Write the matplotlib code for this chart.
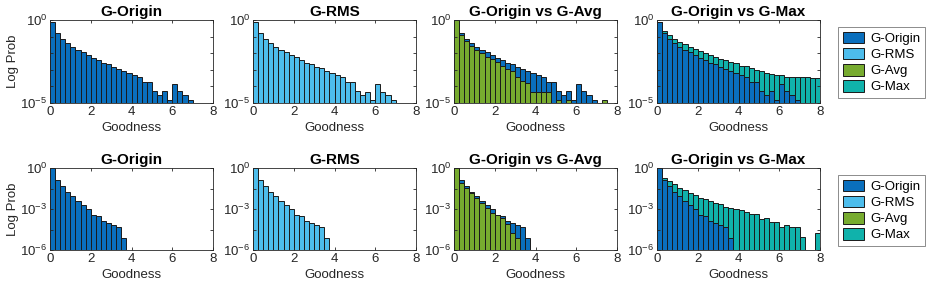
import matplotlib
matplotlib.use('Agg')
import matplotlib.pyplot as plt
import matplotlib.patches as mpatches
import numpy as np

# ─── Data (log10 probability per 0.25-wide goodness bin, nan = empty) ─────────
BIN_EDGES = np.arange(0, 8.01, 0.25)
nan = np.nan

# top row (lower limit 1e-5)
top_origin = [-0.10, -0.78, -1.14, -1.40, -1.60, -1.78, -1.93, -2.10, -2.26, -2.42,
              -2.58, -2.66, -2.85, -2.93, -3.08, -3.22, -3.32, -3.45, -3.75, -3.75,
              -4.30, -4.50, -4.30, -4.82, -3.85, -4.30, -4.52, -4.82, nan, nan, nan, nan]
top_rms = [-0.10, -0.78, -1.13, -1.40, -1.61, -1.78, -1.94, -2.10, -2.25, -2.43,
           -2.57, -2.68, -2.84, -2.90, -3.07, -3.22, -3.33, -3.45, -3.75, -3.75,
           -4.30, -4.50, -4.32, -4.80, -3.85, -4.32, -4.52, -4.82, nan, nan, nan, nan]
top_avg = [0.0, -0.93, -1.28, -1.54, -1.79, -1.99, -2.20, -2.36, -2.55, -2.75,
           -2.95, -3.05, -3.45, -3.65, -3.80, -4.33, -4.33, -4.33, -4.33, nan,
           -4.80, nan, -4.80, nan, nan, nan, nan, nan, nan, -4.80, nan, nan]
top_max = [-0.12, -0.67, -0.91, -1.15, -1.35, -1.47, -1.63, -1.75, -1.88, -2.00,
           -2.12, -2.20, -2.32, -2.40, -2.52, -2.60, -2.76, -2.76, -2.92, -3.00,
           -3.08, -3.17, -3.25, -3.33, -3.29, -3.41, -3.41, -3.45, -3.45, -3.45,
           -3.49, -3.49]

# bottom row (lower limit 1e-6)
bot_origin = [0.0, -0.86, -1.30, -1.74, -2.08, -2.43, -2.72, -2.99, -3.46, -3.50,
              -3.87, -4.04, -4.17, -4.34, -5.10] + [nan] * 17
bot_rms = [0.0, -0.86, -1.31, -1.72, -2.08, -2.42, -2.72, -3.00, -3.45, -3.52,
           -3.88, -4.05, -4.18, -4.35, -5.10] + [nan] * 17
bot_avg = [0.0, -1.10, -1.47, -1.84, -2.20, -2.57, -2.94, -3.26, -3.46, -3.68,
           -4.09, -4.78, -5.15] + [nan] * 19
bot_max = [0.0, -0.74, -0.98, -1.18, -1.47, -1.59, -1.84, -2.01, -2.16, -2.25,
           -2.45, -2.57, -2.65, -2.82, -2.94, -2.99, -3.06, -3.19, -3.38, -3.38,
           -3.73, -3.68, -3.97, -3.97, -4.29, -4.17, -4.29, -4.29, -5.02, nan,
           nan, -4.78]

SERIES = ['G-Origin', 'G-RMS', 'G-Avg', 'G-Max']
COLORS = {'G-Origin': '#0A6FBD', 'G-RMS': '#4DBDEC',
          'G-Avg': '#77AB2F', 'G-Max': '#10B2AB'}

plt.rcParams.update({
    'font.family': ['Liberation Sans', 'DejaVu Sans'],
    'font.size': 9.5,
    'axes.linewidth': 0.6,
    'axes.edgecolor': '0.15',
    'xtick.color': '0.15',
    'ytick.color': '0.15',
    'xtick.direction': 'in',
    'ytick.direction': 'in',
    'xtick.major.size': 2.5,
    'ytick.major.size': 2.5,
    'xtick.major.width': 0.6,
    'ytick.major.width': 0.6,
    'mathtext.default': 'regular',
})

fig = plt.figure(figsize=(9.31, 2.85), dpi=100)
W, H = 931, 285
COL_X = [50, 253, 454, 657]
AX_W = 163
ROW_Y = [(20, 103), (168, 250)]


def draw(ax, vals, color, lo):
    v = np.array(vals, dtype=float)
    m = ~np.isnan(v)
    ax.bar(BIN_EDGES[:-1][m], 10 ** v[m] - lo, bottom=lo, width=0.25,
           align='edge', color=color, edgecolor='0.1', linewidth=0.7)


rows = [
    (1e-5, top_origin, top_rms, top_avg, top_max, [0, -1, -2, -3, -4, -5], [0, -5]),
    (1e-6, bot_origin, bot_rms, bot_avg, bot_max, [0, -1.5, -3, -4.5, -6], [0, -3, -6]),
]

for r, (lo, o, rms, avg, mx, ticks, labelled) in enumerate(rows):
    y0, y1 = ROW_Y[r]
    axes = []
    for c in range(4):
        ax = fig.add_axes([COL_X[c] / W, 1 - y1 / H, AX_W / W, (y1 - y0) / H])
        ax.set_yscale('log')
        axes.append(ax)

    draw(axes[0], o, COLORS['G-Origin'], lo)
    draw(axes[1], rms, COLORS['G-RMS'], lo)
    draw(axes[2], o, COLORS['G-Origin'], lo)
    draw(axes[2], avg, COLORS['G-Avg'], lo)
    draw(axes[3], mx, COLORS['G-Max'], lo)
    draw(axes[3], o, COLORS['G-Origin'], lo)

    titles = ['G-Origin', 'G-RMS', 'G-Origin vs G-Avg', 'G-Origin vs G-Max']
    for c, ax in enumerate(axes):
        ax.set_xlim(0, 8)
        ax.set_ylim(lo, 1)
        ax.set_xticks([0, 2, 4, 6, 8])
        ax.yaxis.set_minor_locator(matplotlib.ticker.NullLocator())
        ax.set_yticks([10.0 ** t for t in ticks])
        ax.set_yticklabels(['$10^{%g}$' % t if t in labelled else '' for t in ticks])
        ax.tick_params(top=True, right=True, labelsize=9.5, pad=2)
        ax.set_title(titles[c], fontsize=11, fontweight='bold', pad=3)
        ax.set_xlabel('Goodness', fontsize=9.5, labelpad=3, color='0.15')
        if c == 0:
            ax.set_ylabel('Log Prob', fontsize=9.5, labelpad=1, color='0.15')

    handles = [mpatches.Patch(facecolor=COLORS[s], edgecolor='0.1',
                              linewidth=0.7, label=s) for s in SERIES]
    leg = fig.legend(handles=handles, loc='upper left',
                     bbox_to_anchor=(838 / W, 1 - (y0 + 7) / H),
                     borderaxespad=0, fontsize=9.5, frameon=True, fancybox=False,
                     edgecolor='0.35', borderpad=0.35, handlelength=1.6,
                     handleheight=1.0, handletextpad=0.5, labelspacing=0.2)
    leg.get_frame().set_linewidth(0.6)

fig.savefig('out.png', dpi=100)
